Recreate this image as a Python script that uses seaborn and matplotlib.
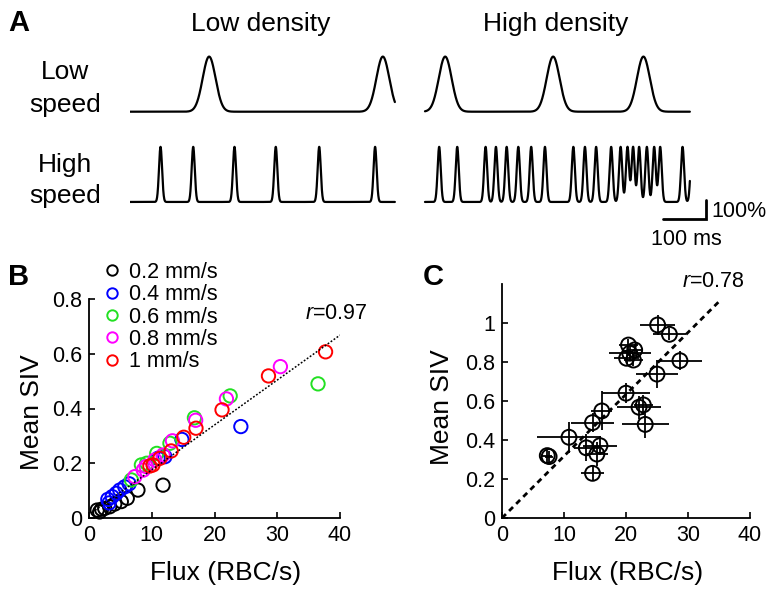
import numpy as np
import pandas as pd
import seaborn as sns
import matplotlib.pyplot as plt
from matplotlib.lines import Line2D

# ---------------- data ----------------
# Panel A: peak times (ms) of simulated line-scan intensity traces, 616 ms each
trace_len = 616
ld_low_speed = [184, 588]
ld_high_speed = [71, 147, 243, 339, 440, 570]
hd_low_speed = [47, 298, 508]
hd_high_speed = [33, 75, 141, 165, 190, 217, 247, 279, 345, 372, 398, 433,
                 455, 471, 484, 498, 516, 533, 547, 599, 621]
peak_amp = 290       # % signal change
sigma_low = 15       # ms, pulse width at low speed
sigma_high = 3.6     # ms, pulse width at high speed
scale_ms = 100
scale_pct = 100

# Panel B: flux vs mean SIV per speed
speeds = ['0.2 mm/s', '0.4 mm/s', '0.6 mm/s', '0.8 mm/s', '1 mm/s']
speed_colors = ['black', 'blue', '#22e022', 'magenta', 'red']
flux_02 = [1.3, 1.7, 2.0, 2.5, 3.3, 4.1, 5.15, 6.1, 7.8, 11.8]
siv_02 = [0.029, 0.022, 0.032, 0.035, 0.041, 0.051, 0.06, 0.072, 0.102, 0.12]
flux_04 = [3.0, 3.2, 3.7, 4.35, 4.9, 5.7, 6.4, 11.0, 12.1, 14.8, 24.2]
siv_04 = [0.068, 0.055, 0.078, 0.09, 0.102, 0.114, 0.125, 0.218, 0.224, 0.287, 0.334]
flux_06 = [6.75, 8.35, 9.2, 10.8, 12.9, 16.8, 22.5, 36.5]
siv_06 = [0.139, 0.194, 0.2, 0.236, 0.273, 0.366, 0.446, 0.49]
flux_08 = [7.3, 8.65, 9.1, 10.5, 11.8, 13.3, 17.0, 21.9, 30.5]
siv_08 = [0.151, 0.175, 0.188, 0.212, 0.23, 0.282, 0.357, 0.435, 0.553]
flux_10 = [9.7, 10.2, 11.3, 13.1, 15.1, 17.05, 21.2, 28.6, 37.7]
siv_10 = [0.19, 0.194, 0.218, 0.245, 0.295, 0.328, 0.395, 0.519, 0.607]
fit_b_x = [0.5, 40]
fit_b_y = [0.02, 0.668]
r_b = '0.97'

# Panel C: per-vessel mean with SD
flux_c = [7.3, 7.6, 10.8, 13.6, 15.8, 15.3, 14.6, 14.6, 16.1, 20.0, 20.4,
          20.6, 21.4, 20.1, 21.2, 25.1, 27.0, 28.7, 25.0, 22.8, 22.1, 23.1]
siv_c = [0.32, 0.315, 0.414, 0.36, 0.371, 0.328, 0.229, 0.489, 0.549, 0.64, 0.887,
         0.845, 0.862, 0.819, 0.81, 0.99, 0.942, 0.807, 0.738, 0.58, 0.568, 0.48]
flux_sd = [0.8, 0.6, 5.1, 2.0, 2.8, 1.8, 1.9, 3.4, 1.7, 3.9, 1.5,
           3.4, 1.3, 2.0, 1.5, 2.8, 2.7, 3.5, 3.4, 1.5, 3.6, 3.8]
siv_sd = [0.04, 0.03, 0.08, 0.07, 0.05, 0.06, 0.04, 0.05, 0.1, 0.05, 0.03,
          0.04, 0.03, 0.03, 0.03, 0.05, 0.03, 0.05, 0.07, 0.05, 0.06, 0.07]
fit_c_x = [0, 35]
fit_c_y = [0, 1.11]
r_c = '0.78'

# ---------------- style ----------------
sns.set_style('white')
plt.rcParams['font.family'] = ['Liberation Sans', 'DejaVu Sans']
plt.rcParams['mathtext.fontset'] = 'custom'
plt.rcParams['mathtext.it'] = 'Liberation Sans:italic'
plt.rcParams['mathtext.rm'] = 'Liberation Sans'
plt.rcParams['text.color'] = 'black'
plt.rcParams['axes.labelcolor'] = 'black'
plt.rcParams['xtick.color'] = 'black'
plt.rcParams['ytick.color'] = 'black'

W, H = 776, 596
fig = plt.figure(figsize=(W / 100, H / 100), dpi=100)


def fx(px):
    return px / W


def fy(py):
    return 1 - py / H


def trace(peaks, sigma):
    t = np.arange(0, trace_len + 0.25, 0.25)
    s = np.zeros_like(t)
    for p in peaks:
        s += np.exp(-0.5 * ((t - p) / sigma) ** 2)
    return t, peak_amp * s


# ---------------- panel A ----------------
px_per_ms = 0.43
px_per_pct = 0.19
axa = fig.add_axes([fx(130), fy(260), 590 / W, 220 / H])
axa.set_xlim(0, 590 / px_per_ms)
axa.set_ylim(-(260 - 111.7) / px_per_pct, (111.7 - 40) / px_per_pct)
axa.axis('off')

row_gap = 475
hd_offset = 686
for peaks, sig, dx, dy in [(ld_low_speed, sigma_low, 0, 0),
                           (ld_high_speed, sigma_high, 0, -row_gap),
                           (hd_low_speed, sigma_low, hd_offset, 0),
                           (hd_high_speed, sigma_high, hd_offset, -row_gap)]:
    t, s = trace(peaks, sig)
    sns.lineplot(x=t + dx, y=s + dy, ax=axa, color='black', lw=1.6,
                 estimator=None, sort=False)

# scale bar
bar_x1 = 1340
bar_y0 = -565
axa.plot([bar_x1 - scale_ms, bar_x1, bar_x1], [bar_y0, bar_y0, bar_y0 + scale_pct],
         color='black', lw=2, solid_joinstyle='miter')
fig.text(fx(711), fy(216.7), f'{scale_pct}%', fontsize=15.5, ha='left', va='baseline')
fig.text(fx(686.7), fy(245), f'{scale_ms} ms', fontsize=15.5, ha='center', va='baseline')

fig.text(fx(260.5), fy(31), 'Low density', fontsize=19, ha='center', va='baseline')
fig.text(fx(556), fy(31), 'High density', fontsize=19, ha='center', va='baseline')
for txt, base in [('Low', 79), ('speed', 112), ('High', 172), ('speed', 203)]:
    fig.text(fx(65), fy(base), txt, fontsize=19, ha='center', va='baseline')

for lab, x, y in [('A', 19, 23), ('B', 19, 277), ('C', 433, 277)]:
    fig.text(fx(x), fy(y), lab, fontsize=21, fontweight='bold', ha='center', va='center')


def style_axes(ax):
    sns.despine(ax=ax)
    for sp in ['left', 'bottom']:
        ax.spines[sp].set_linewidth(1.3)
        ax.spines[sp].set_color('black')
    ax.tick_params(direction='in', length=4, width=1.2, labelsize=15.5, pad=5,
                   colors='black', left=True, bottom=True)
    ax.set_xlabel('')
    ax.set_ylabel('')


# ---------------- panel B ----------------
df_b = pd.concat([
    pd.DataFrame({'flux': fl, 'siv': sv, 'speed': sp})
    for fl, sv, sp in [(flux_02, siv_02, speeds[0]), (flux_04, siv_04, speeds[1]),
                       (flux_06, siv_06, speeds[2]), (flux_08, siv_08, speeds[3]),
                       (flux_10, siv_10, speeds[4])]
], ignore_index=True)

axb = fig.add_axes([fx(89), fy(518), 251 / W, 219 / H])
sns.scatterplot(data=df_b, x='flux', y='siv', hue='speed', hue_order=speeds,
                palette=speed_colors, s=92, linewidth=1.4, legend=False, ax=axb,
                clip_on=False)
pts = axb.collections[0]
pts.set_edgecolors(pts.get_facecolors())
pts.set_facecolors('none')
axb.plot(fit_b_x, fit_b_y, color='black', ls=(0, (1.2, 1.2)), lw=1.1)
axb.set_xlim(0, 40)
axb.set_ylim(0, 0.8)
axb.set_xticks([0, 10, 20, 30, 40])
axb.set_yticks([0, 0.2, 0.4, 0.6, 0.8])
axb.set_yticklabels(['0', '0.2', '0.4', '0.6', '0.8'])
style_axes(axb)

handles = [Line2D([], [], ls='', marker='o', mfc='none', mec=c, mew=1.4, ms=7.5)
           for c in speed_colors]
fig.legend(handles, speeds, loc='upper left', bbox_to_anchor=(fx(102), fy(262)),
           frameon=False, fontsize=15.5, borderpad=0, borderaxespad=0,
           handlelength=0.9, handletextpad=0.35, labelspacing=0.06)
fig.text(fx(367), fy(319.3), r'$\it{r}$=' + r_b, fontsize=15.5, ha='right', va='baseline')
fig.text(fx(226), fy(580), 'Flux (RBC/s)', fontsize=19, ha='center', va='baseline')
fig.text(fx(32), fy(412), 'Mean SIV', fontsize=19, ha='center', va='center', rotation=90)

# ---------------- panel C ----------------
df_c = pd.DataFrame({'flux': flux_c, 'siv': siv_c, 'flux_sd': flux_sd, 'siv_sd': siv_sd})
axc = fig.add_axes([fx(502), fy(518), 248 / W, 234 / H])
axc.errorbar(df_c['flux'], df_c['siv'], xerr=df_c['flux_sd'], yerr=df_c['siv_sd'],
             fmt='none', ecolor='black', elinewidth=1.3, capsize=0)
sns.scatterplot(data=df_c, x='flux', y='siv', ax=axc, s=115, facecolor='none',
                edgecolor='black', linewidth=1.4)
axc.plot(fit_c_x, fit_c_y, color='black', ls=(0, (2, 1.6)), lw=2)
axc.set_xlim(0, 40)
axc.set_ylim(0, 1.2)
axc.set_xticks([0, 10, 20, 30, 40])
axc.set_yticks([0, 0.2, 0.4, 0.6, 0.8, 1.0])
axc.set_yticklabels(['0', '0.2', '0.4', '0.6', '0.8', '1'])
style_axes(axc)
fig.text(fx(745), fy(287.3), r'$\it{r}$=' + r_c, fontsize=15.5, ha='right', va='baseline')
fig.text(fx(628), fy(580), 'Flux (RBC/s)', fontsize=19, ha='center', va='baseline')
fig.text(fx(442), fy(407), 'Mean SIV', fontsize=19, ha='center', va='center', rotation=90)

fig.savefig('out.png', dpi=100)
